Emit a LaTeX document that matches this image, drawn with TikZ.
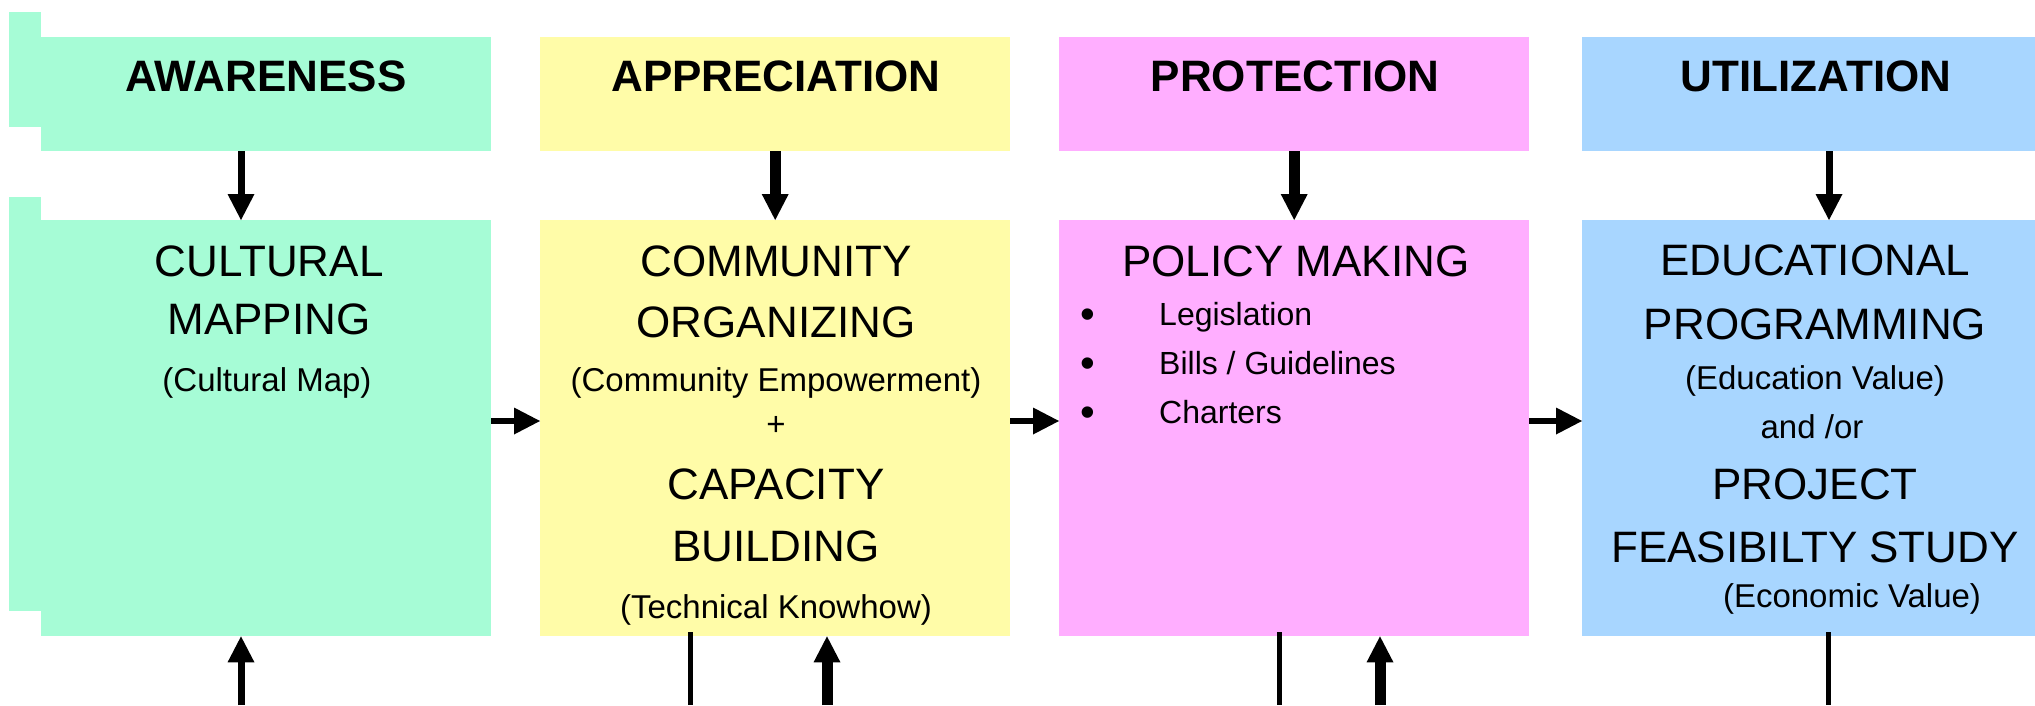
\documentclass[tikz,border=0pt]{standalone}
\usepackage{fontspec}
\setmainfont{Liberation Sans}
\usepackage{tikz}
\usetikzlibrary{arrows.meta,positioning,calc}
\definecolor{awgreen}{HTML}{A6FCD6}
\definecolor{apyellow}{HTML}{FFFCA8}
\definecolor{prpink}{HTML}{FFAEFF}
\definecolor{utblue}{HTML}{A8D6FF}
\tikzset{
  box/.style={rectangle, inner sep=0pt, anchor=north west, draw=none},
  head/.style={anchor=base, inner sep=0pt, font=\fontsize{44}{50}\selectfont\bfseries},
  big/.style={anchor=base, inner sep=0pt, font=\fontsize{44}{50}\selectfont},
  small/.style={anchor=base, inner sep=0pt, font=\fontsize{33}{38}\selectfont},
  item/.style={anchor=base west, inner sep=0pt, font=\fontsize{32}{36}\selectfont},
  dot/.style={anchor=base, inner sep=0pt, font=\fontsize{42}{44}\selectfont},
  flow/.style={-{Triangle[width=27pt,length=26pt,line width=0pt]}, line width=7pt},
  heavy/.style={flow, line width=11pt},
  side/.style={flow, line width=6pt},
  stub/.style={line width=5pt}
}

\begin{document}
\begin{tikzpicture}[x=1pt, y=-1pt]
   \useasboundingbox (0,0) rectangle (2035,705);
   \fill[awgreen] (9,12) rectangle (41,127);
   \fill[awgreen] (9,197) rectangle (41,611);
   \begin{scope}[every node/.style={box}]
    \node (awh) [fill=awgreen, minimum width=450pt, minimum height=114pt] at (41,37) {};
    \node (aph) [fill=apyellow, minimum width=470pt, minimum height=114pt] at (540,37) {};
    \node (prh) [fill=prpink, minimum width=470pt, minimum height=114pt] at (1059,37) {};
    \node (uth) [fill=utblue, minimum width=460pt, minimum height=114pt] at (1582,37) {};
    \node (awl) [fill=awgreen, minimum width=450pt, minimum height=416pt] at (41,220) {};
    \node (apl) [fill=apyellow, minimum width=470pt, minimum height=416pt] at (540,220) {};
    \node (prl) [fill=prpink, minimum width=470pt, minimum height=416pt] at (1059,220) {};
    \node (utl) [fill=utblue, minimum width=460pt, minimum height=416pt] at (1582,220) {};
   \end{scope}
   % headings
   \node (awt) [head] at (266,91) {AWARENESS};
   \node (apt) [head] at (776,91) {APPRECIATION};
   \node (prt) [head] at (1295,91) {PROTECTION};
   \node (utt) [head] at (1816,91) {UTILIZATION};
   % awareness
   \node (aw1) [big] at (269,276) {CULTURAL};
   \node (aw2) [big] at (269,334) {MAPPING};
   \node (aw3) [small] at (267,391) {(Cultural Map)};
   % appreciation
   \node (ap1) [big] at (776,276) {COMMUNITY};
   \node (ap2) [big] at (776,337) {ORGANIZING};
   \node (ap3) [small] at (776,391) {(Community Empowerment)};
   \node (ap4) [small] at (776,435) {+};
   \node (ap5) [big] at (776,499) {CAPACITY};
   \node (ap6) [big] at (776,561) {BUILDING};
   \node (ap7) [small] at (776,618) {(Technical Knowhow)};
   % protection
   \node (pr1) [big] at (1296,276) {POLICY MAKING};
   \node (pd1) [dot] at (1088,328) {\textbullet};
   \node (pd2) [dot] at (1088,377) {\textbullet};
   \node (pd3) [dot] at (1088,426) {\textbullet};
   \node (pr2) [item] at (1159,325) {Legislation};
   \node (pr3) [item] at (1159,374) {Bills / Guidelines};
   \node (pr4) [item] at (1159,423) {Charters};
   % utilization
   \node (ut1) [big] at (1815,275) {EDUCATIONAL};
   \node (ut2) [big] at (1815,339) {PROGRAMMING};
   \node (ut3) [small] at (1815,389) {(Education Value)};
   \node (ut4) [small] at (1812,438) {and /or};
   \node (ut5) [big] at (1815,499) {PROJECT};
   \node (ut6) [big] at (1815,562) {FEASIBILTY STUDY};
   \node (ut7) [small] at (1852,607) {(Economic Value)};
   % arrows
   \coordinate (ga) at (241,0);
   \coordinate (ua) at (1829,0);
   \coordinate (hy) at (0,421);
   \coordinate (gb) at (241,705);
   \coordinate (yb) at (827,705);
   \coordinate (pb) at (1380,705);
   \coordinate (ys) at (690,705);
   \coordinate (ps) at (1279,705);
   \coordinate (us) at (1828,705);
   \draw[flow] (awh.south -| ga) -- (awl.north -| ga);
   \draw[heavy] (aph.south) -- (apl.north);
   \draw[heavy] (prh.south) -- (prl.north);
   \draw[flow] (uth.south -| ua) -- (utl.north -| ua);
   \draw[side] (awl.east |- hy) -- (apl.west |- hy);
   \draw[side] (apl.east |- hy) -- (prl.west |- hy);
   \draw[side] (prl.east |- hy) -- (utl.west |- hy);
   \draw[flow] (gb) -- (gb |- awl.south);
   \draw[heavy] (yb) -- (yb |- apl.south);
   \draw[heavy] (pb) -- (pb |- prl.south);
   \draw[stub] ([yshift=4pt]apl.south -| ys) -- (ys);
   \draw[stub] ([yshift=4pt]prl.south -| ps) -- (ps);
   \draw[stub] ([yshift=4pt]utl.south -| us) -- (us);
\end{tikzpicture}
\end{document}
